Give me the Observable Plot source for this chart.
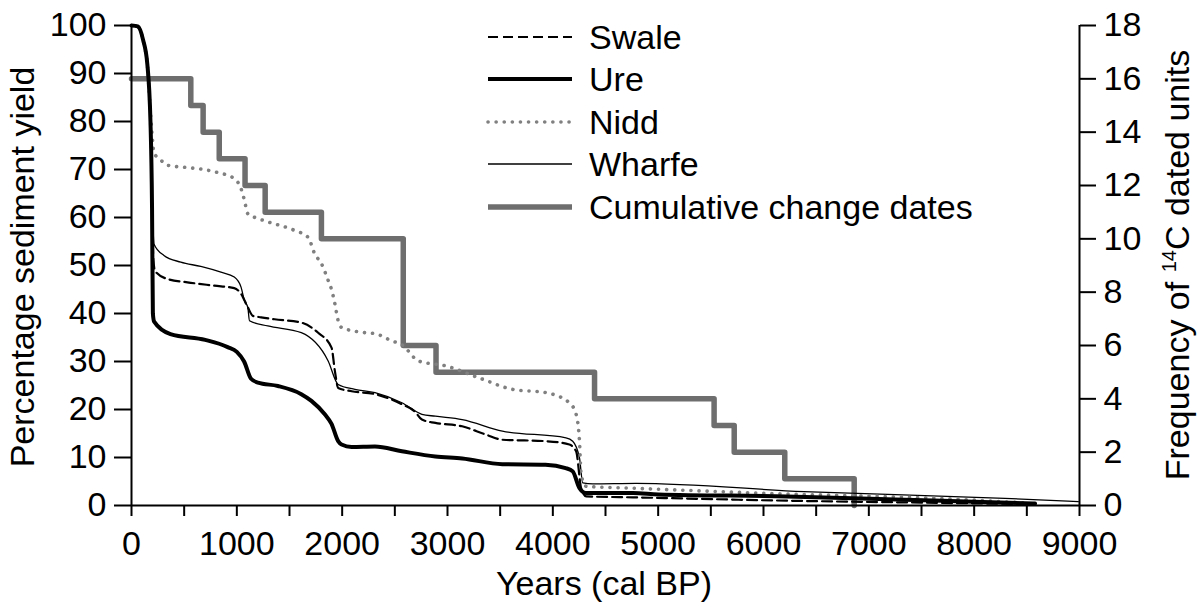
<!DOCTYPE html>
<html><head><meta charset="utf-8">
<script src="https://cdn.jsdelivr.net/npm/d3@7"></script>
<script src="https://cdn.jsdelivr.net/npm/@observablehq/plot@0.6"></script>
<style>
body{margin:0;background:#fff;}
#wrap{position:relative;width:1203px;height:605px;}
</style></head><body><div id="wrap"></div>
<script>
// ---- data (years cal BP, % sediment yield) ----
const swale = [[0,100],[40,100],[110,97],[150,92],[180,80],[195,62],[208,51],[225,48.8],[340,47.2],[531,46.5],[786,45.8],[975,45.3],[1040,44.1],[1104,41.3],[1152,39.5],[1231,39.2],[1358,38.8],[1612,38.1],[1772,36],[1899,32.9],[1931,28],[1962,24.5],[2090,23.8],[2312,23.2],[2567,21.1],[2694,19.5],[2757,17.9],[2885,17.2],[3139,16.5],[3362,14.8],[3521,13.7],[3935,13.4],[4157,12.7],[4221,11.3],[4269,3.6],[4317,1.9],[4761,1.7],[6221,1.0],[7500,0.6],[8483,0.3]];
const ure = [[0,100],[60,99.8],[110,97],[150,92],[180,80],[195,62],[203,40],[215,38.3],[370,35.7],[700,34.5],[913,33],[1000,32],[1069,30],[1135,26.4],[1200,25.6],[1390,24.9],[1612,23.2],[1708,21.8],[1835,19],[1899,17],[1962,13.4],[1994,12.7],[2090,12.2],[2311,12.3],[2567,11.3],[2884,10.2],[3140,9.8],[3521,8.6],[3930,8.5],[4122,7.8],[4189,7.1],[4253,3.6],[4313,2.6],[4761,2.6],[5000,2.3],[6221,1.9],[7338,1.2],[8000,0.8],[8578,0.4]];
const nidd = [[0,100],[60,99.7],[120,96],[150,92],[180,82],[200,76],[213,73.5],[277,72],[340,70.9],[531,70.4],[658,70.1],[849,69.2],[913,68.8],[1008,67.4],[1040,66],[1072,63.6],[1104,60.8],[1200,59.8],[1294,59.1],[1549,57.3],[1676,55.9],[1740,52.4],[1803,50.4],[1867,46.9],[1899,45],[1931,42],[1962,38.5],[1994,37.1],[2217,36],[2312,35.8],[2471,34.3],[2567,33.5],[2726,30.1],[2980,29.1],[3299,26.6],[3616,24.2],[3935,23.5],[4157,21.4],[4221,19],[4253,13.4],[4269,6.4],[4317,4],[4761,3.6],[6070,2.5],[7650,1.5],[8500,0.5]];
const wharfe = [[0,100],[70,99.5],[120,96],[150,92],[180,80],[195,65],[213,54.5],[308,52.1],[468,50.7],[658,49.8],[849,48.6],[976,47.6],[1040,45.5],[1072,42.7],[1104,41.3],[1120,38.5],[1294,37.4],[1612,36],[1867,30.1],[1962,25.2],[2121,24.2],[2312,23.5],[2567,21.4],[2757,19],[2885,18.6],[3139,17.9],[3521,15.5],[4125,14.1],[4189,13.4],[4253,9.9],[4284,4.7],[4380,4.5],[4790,4.6],[6383,2.9],[8292,1.5],[8989,0.8]];
// cumulative change dates (frequency of 14C dated units, right axis)
const cumulative = [[0,16],[563,15],[680,14],[833,13],[1078,12],[1269,11],[1803,10],[2580,6],[2891,5],[4396,4],[5531,3],[5722,2],[6202,1],[6861,0]];
const xTicks = d3.range(0, 9001, 500);
const leftTicks = d3.range(0, 101, 10);
const rightTicks = d3.range(0, 19, 2);
const legendLabels = ["Swale", "Ure", "Nidd", "Wharfe", "Cumulative change dates"];

const RMAX = 18;
const toLeft = c => c * 100 / RMAX;
const FONT = '"Liberation Sans", Arial, Helvetica, sans-serif';
const styles = {
  Swale: {stroke: "#000", strokeWidth: 2.2, strokeDasharray: "10,5"},
  Ure: {stroke: "#000", strokeWidth: 4},
  Nidd: {stroke: "#808080", strokeWidth: 3.6, strokeDasharray: "0.1,8", strokeLinecap: "round"},
  Wharfe: {stroke: "#000", strokeWidth: 1.3},
  "Cumulative change dates": {stroke: "#6e6e6e", strokeWidth: 5.5}
};

const chart = Plot.plot({
  width: 1203, height: 605,
  marginLeft: 131, marginRight: 124, marginTop: 25, marginBottom: 100,
  style: {fontFamily: FONT, fontSize: "34px", color: "#000", background: "#fff"},
  x: {domain: [0, 9000]},
  y: {domain: [0, 100]},
  marks: [
    Plot.line(cumulative, {x: d => d[0], y: d => toLeft(d[1]), curve: "step-after", ...styles["Cumulative change dates"]}),
    Plot.line(wharfe, {x: d => d[0], y: d => d[1], curve: "monotone-x", ...styles.Wharfe}),
    Plot.line(nidd, {x: d => d[0], y: d => d[1], curve: "monotone-x", ...styles.Nidd}),
    Plot.line(swale, {x: d => d[0], y: d => d[1], curve: "monotone-x", ...styles.Swale}),
    Plot.line(ure, {x: d => d[0], y: d => d[1], curve: "monotone-x", ...styles.Ure}),
    Plot.ruleX([0, 9000], {stroke: "#000", strokeWidth: 2}),
    Plot.ruleY([0], {stroke: "#000", strokeWidth: 2}),
    Plot.axisX({ticks: xTicks, tickFormat: d => d % 1000 === 0 ? String(d) : "", tickSize: 11, tickPadding: 14, strokeWidth: 2, label: null}),
    Plot.axisY({anchor: "left", ticks: leftTicks, tickSize: 17, tickPadding: 8, strokeWidth: 2, label: null}),
    Plot.axisY({anchor: "right", ticks: rightTicks.map(toLeft), tickFormat: d => String(Math.round(d * RMAX / 100)), tickSize: 16, tickPadding: 8, strokeWidth: 2, label: null})
  ]
});
document.getElementById("wrap").appendChild(chart);

const svg = d3.select(chart);
const g = svg.append("g").attr("font-family", FONT).attr("fill", "#000");
g.append("text").attr("transform", "translate(34,267) rotate(-90)").attr("text-anchor", "middle").attr("font-size", 34).text("Percentage sediment yield");
const rt = g.append("text").attr("transform", "translate(1189,265) rotate(-90)").attr("text-anchor", "middle").attr("font-size", 34);
rt.append("tspan").text("Frequency of ");
rt.append("tspan").attr("font-size", 20).attr("dy", -13).text("14");
rt.append("tspan").attr("dy", 13).text("C dated units");
g.append("text").attr("x", 604).attr("y", 595).attr("text-anchor", "middle").attr("font-size", 34).text("Years (cal BP)");

// legend
const legendRows = [37, 79, 122, 164, 207];
const lg = svg.append("g").attr("font-family", FONT).attr("font-size", 34).attr("text-anchor", "start");
legendLabels.forEach((name, i) => {
  const s = styles[name];
  lg.append("line").attr("x1", 488).attr("x2", 572).attr("y1", legendRows[i]).attr("y2", legendRows[i])
    .attr("stroke", s.stroke).attr("stroke-width", s.strokeWidth)
    .attr("stroke-dasharray", s.strokeDasharray || null).attr("stroke-linecap", s.strokeLinecap || null);
  lg.append("text").attr("x", 589).attr("y", legendRows[i] + 12).attr("text-anchor", "start").text(name);
});
</script></body></html>
